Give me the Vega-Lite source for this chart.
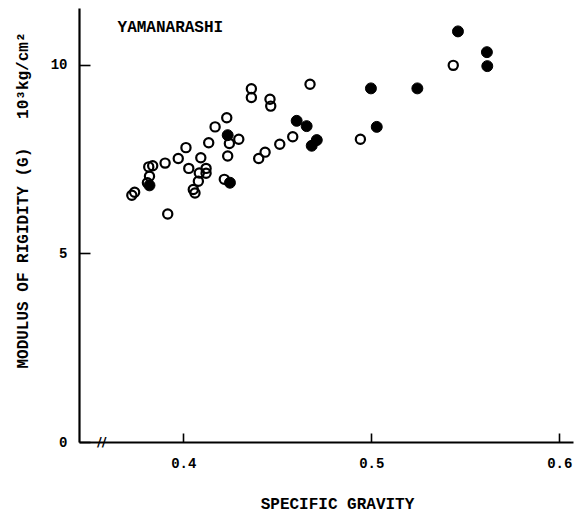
{
  "$schema": "https://vega.github.io/schema/vega-lite/v6.json",
  "width": 494,
  "height": 434,
  "autosize": {"type": "none"},
  "padding": {"left": 79, "top": 8, "right": 3, "bottom": 71},
  "background": "white",
  "config": {
    "view": {"stroke": null},
    "font": "Liberation Mono",
    "axis": {
      "grid": false,
      "domainColor": "black",
      "domainWidth": 2.2,
      "tickColor": "black",
      "tickWidth": 1.6,
      "labelFont": "Liberation Mono",
      "labelFontWeight": "bold",
      "labelFontSize": 14,
      "labelColor": "black",
      "titleFont": "Liberation Mono",
      "titleFontWeight": "bold",
      "titleFontSize": 16,
      "titleColor": "black"
    }
  },
  "data": {
    "values": [
      {"sg": 0.3726, "g": 6.54, "type": "open"},
      {"sg": 0.3741, "g": 6.62, "type": "open"},
      {"sg": 0.3809, "g": 6.87, "type": "open"},
      {"sg": 0.3820, "g": 7.04, "type": "open"},
      {"sg": 0.3816, "g": 7.29, "type": "open"},
      {"sg": 0.3837, "g": 7.32, "type": "open"},
      {"sg": 0.3903, "g": 7.39, "type": "open"},
      {"sg": 0.3917, "g": 6.04, "type": "open"},
      {"sg": 0.3973, "g": 7.51, "type": "open"},
      {"sg": 0.4014, "g": 7.80, "type": "open"},
      {"sg": 0.4029, "g": 7.25, "type": "open"},
      {"sg": 0.4093, "g": 7.53, "type": "open"},
      {"sg": 0.4085, "g": 7.13, "type": "open"},
      {"sg": 0.4080, "g": 6.91, "type": "open"},
      {"sg": 0.4053, "g": 6.69, "type": "open"},
      {"sg": 0.4062, "g": 6.60, "type": "open"},
      {"sg": 0.4121, "g": 7.25, "type": "open"},
      {"sg": 0.4121, "g": 7.12, "type": "open"},
      {"sg": 0.4135, "g": 7.93, "type": "open"},
      {"sg": 0.4169, "g": 8.35, "type": "open"},
      {"sg": 0.4231, "g": 8.59, "type": "open"},
      {"sg": 0.4245, "g": 7.91, "type": "open"},
      {"sg": 0.4236, "g": 7.58, "type": "open"},
      {"sg": 0.4218, "g": 6.96, "type": "open"},
      {"sg": 0.4295, "g": 8.02, "type": "open"},
      {"sg": 0.4362, "g": 9.36, "type": "open"},
      {"sg": 0.4362, "g": 9.13, "type": "open"},
      {"sg": 0.4461, "g": 9.08, "type": "open"},
      {"sg": 0.4465, "g": 8.90, "type": "open"},
      {"sg": 0.4401, "g": 7.51, "type": "open"},
      {"sg": 0.4435, "g": 7.68, "type": "open"},
      {"sg": 0.4513, "g": 7.89, "type": "open"},
      {"sg": 0.4582, "g": 8.09, "type": "open"},
      {"sg": 0.4674, "g": 9.48, "type": "open"},
      {"sg": 0.4942, "g": 8.02, "type": "open"},
      {"sg": 0.5436, "g": 9.98, "type": "open"},
      {"sg": 0.3820, "g": 6.80, "type": "filled"},
      {"sg": 0.4236, "g": 8.13, "type": "filled"},
      {"sg": 0.4248, "g": 6.87, "type": "filled"},
      {"sg": 0.4603, "g": 8.51, "type": "filled"},
      {"sg": 0.4656, "g": 8.37, "type": "filled"},
      {"sg": 0.4683, "g": 7.85, "type": "filled"},
      {"sg": 0.4710, "g": 8.00, "type": "filled"},
      {"sg": 0.4998, "g": 9.37, "type": "filled"},
      {"sg": 0.5245, "g": 9.37, "type": "filled"},
      {"sg": 0.5029, "g": 8.35, "type": "filled"},
      {"sg": 0.5461, "g": 10.88, "type": "filled"},
      {"sg": 0.5615, "g": 10.33, "type": "filled"},
      {"sg": 0.5617, "g": 9.96, "type": "filled"}
    ]
  },
  "encoding": {
    "x": {
      "field": "sg",
      "type": "quantitative",
      "scale": {"domain": [0.3445, 0.6073], "nice": false, "zero": false},
      "axis": {
        "values": [0.4, 0.5, 0.6],
        "format": ".1f",
        "tickSize": -9,
        "labelPadding": 23,
        "title": "SPECIFIC GRAVITY",
        "titleX": 258,
        "titleY": 61,
        "titleBaseline": "middle",
        "titleAlign": "center"
      }
    },
    "y": {
      "field": "g",
      "type": "quantitative",
      "scale": {"domain": [0, 11.5], "nice": false},
      "axis": {
        "values": [0, 5, 10],
        "format": "d",
        "tickSize": -11,
        "labelPadding": 23,
        "title": "MODULUS OF RIGIDITY (G)\u00a0\u00a0\u00a010³kg/cm²",
        "titleAngle": -90,
        "titleX": -57,
        "titleY": 192,
        "titleAlign": "center",
        "titleBaseline": "middle"
      }
    }
  },
  "layer": [
    {
      "transform": [{"filter": "datum.type === 'open'"}],
      "mark": {"type": "point", "shape": "circle", "filled": false, "stroke": "black", "strokeWidth": 2.2, "size": 85, "opacity": 1}
    },
    {
      "transform": [{"filter": "datum.type === 'filled'"}],
      "mark": {"type": "point", "shape": "circle", "filled": true, "fill": "black", "stroke": "black", "strokeWidth": 1, "size": 120, "opacity": 1}
    },
    {
      "data": {"values": [{"sg": 0.365, "g": 10.99, "label": "YAMANARASHI"}]},
      "mark": {"type": "text", "align": "left", "baseline": "middle", "font": "Liberation Mono", "fontWeight": "bold", "fontSize": 16, "color": "black"},
      "encoding": {"text": {"field": "label"}}
    },
    {
      "data": {"values": [{"sg": 0.3566, "g": 0, "label": "//"}]},
      "mark": {"type": "text", "align": "center", "baseline": "middle", "font": "DejaVu Sans", "fontWeight": "bold", "fontSize": 13, "color": "black"},
      "encoding": {"text": {"field": "label"}}
    }
  ]
}
